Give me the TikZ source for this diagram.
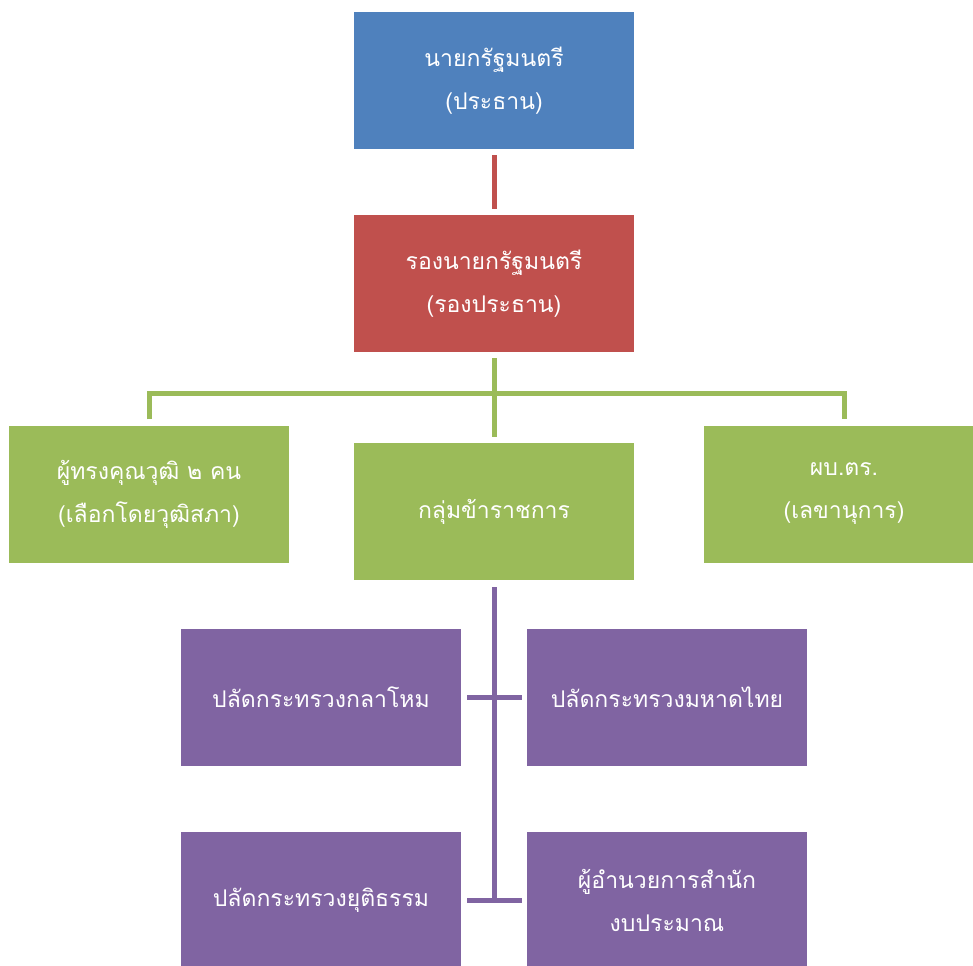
\documentclass[tikz,border=0pt]{standalone}
\usepackage{fontspec}
\usepackage{tikz}
\usetikzlibrary{positioning, calc}
\newfontfamily\thaifont[Script=Thai]{Loma}
\definecolor{chairblue}{HTML}{4F81BD}
\definecolor{deputyred}{HTML}{C0504D}
\definecolor{membergreen}{HTML}{9BBB59}
\definecolor{officepurple}{HTML}{8064A2}
\tikzset{
  orgbox/.style={minimum width=280pt, minimum height=137pt, inner sep=0pt,
    text=white, align=center, font=\thaifont\fontsize{23}{43}\selectfont},
  linkline/.style={line width=5pt}
}

\begin{document}
\begin{tikzpicture}[x=1pt, y=-1pt]
  \useasboundingbox (0,0) rectangle (973,965);

  % Chair and deputy
  \node[orgbox, fill=chairblue] (chair) at (494, 80.5) {นายกรัฐมนตรี\\(ประธาน)};
  \node[orgbox, fill=deputyred] (deputy) at (494, 283.5) {รองนายกรัฐมนตรี\\(รองประธาน)};
  \draw[deputyred, linkline, shorten <=6pt, shorten >=6pt] (chair.south) -- (deputy.north);

  % Committee members
  \node[orgbox, fill=membergreen] (experts) at (149, 494) {ผู้ทรงคุณวุฒิ ๒ คน\\(เลือกโดยวุฒิสภา)};
  \node[orgbox, fill=membergreen] (officials) at (494, 511.5) {กลุ่มข้าราชการ};
  \node[orgbox, fill=membergreen] (secretary) at (844, 494) {ผบ.ตร.\\(เลขานุการ)};
  \coordinate (greenbus) at (494, 393);
  \draw[membergreen, linkline, shorten <=6pt, shorten >=6pt] (deputy.south) -- (officials.north);
  \draw[membergreen, linkline] ([yshift=6pt]experts.north) |- (greenbus) -| ([yshift=6pt]secretary.north);

  % Permanent secretaries
  \node[orgbox, fill=officepurple] (defence) at (321, 697.5) {ปลัดกระทรวงกลาโหม};
  \node[orgbox, fill=officepurple] (interior) at (667, 697.5) {ปลัดกระทรวงมหาดไทย};
  \node[orgbox, fill=officepurple] (justice) at (321, 900.5) {ปลัดกระทรวงยุติธรรม};
  \node[orgbox, fill=officepurple] (budget) at (667, 900.5) {ผู้อำนวยการสำนัก\\งบประมาณ};
  \coordinate (purpleend) at (officials.south |- justice.east);
  \draw[officepurple, linkline, shorten <=7pt] (officials.south) -- ([yshift=-2.5pt]purpleend);
  \draw[officepurple, linkline, shorten <=6pt, shorten >=5pt] (defence.east) -- (interior.west);
  \draw[officepurple, linkline, shorten <=6pt, shorten >=5pt] (justice.east) -- (budget.west);
\end{tikzpicture}
\end{document}
